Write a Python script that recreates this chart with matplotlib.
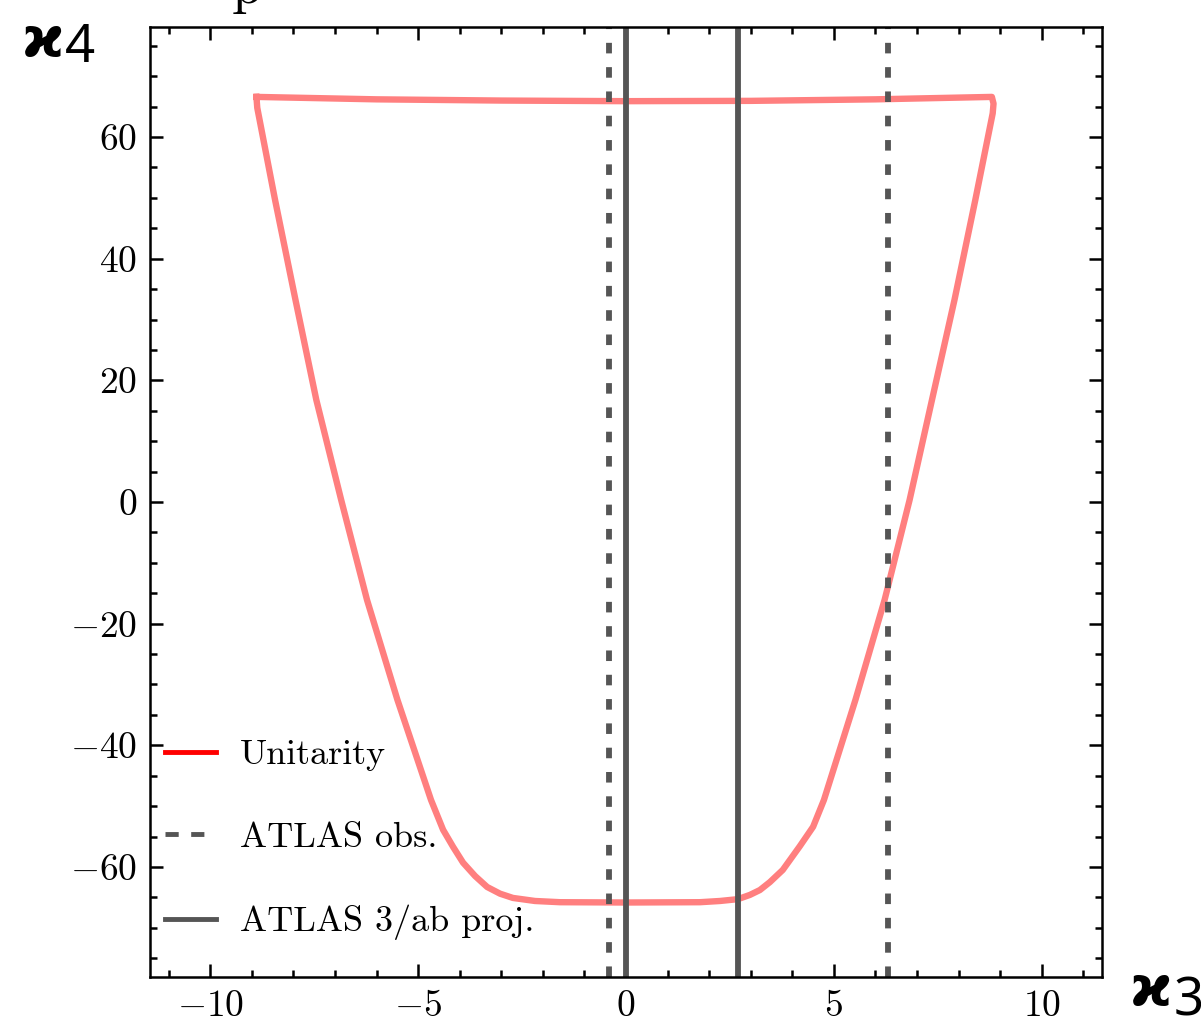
import matplotlib
matplotlib.use("Agg")
import matplotlib.pyplot as plt
from matplotlib.lines import Line2D
from matplotlib.ticker import MultipleLocator

plt.rcParams['font.family'] = 'serif'
plt.rcParams['font.serif'] = ['cmr10']
plt.rcParams['mathtext.fontset'] = 'cm'
plt.rcParams['axes.formatter.use_mathtext'] = True
plt.rcParams['lines.scale_dashes'] = False

# contorno de unitariedade (kappa3, kappa4), percorrido no sentido horario
k3_unit = [-8.89, -6.0, -3.0, 0.0, 3.0, 6.0, 8.80,
           8.84, 8.82, 8.40, 7.90, 7.36, 6.82, 6.22, 5.52, 4.76, 4.50,
           4.18, 3.77, 3.46, 3.22, 2.98, 2.69, 2.26, 1.78, 0.0, -1.59,
           -2.19, -2.72, -3.03, -3.34, -3.63, -3.92, -4.16, -4.40,
           -4.69, -5.50, -6.23, -6.85, -7.45, -7.95, -8.44, -8.87, -8.89]
k4_unit = [66.6, 66.2, 66.0, 65.9, 65.95, 66.2, 66.6,
           65.5, 63.9, 49.6, 33.2, 16.8, 0.3, -16.1, -32.5, -49.0, -53.4,
           -56.6, -60.5, -62.5, -63.8, -64.6, -65.3, -65.6, -65.8, -65.85, -65.8,
           -65.6, -65.1, -64.4, -63.3, -61.5, -59.3, -56.7, -53.9,
           -49.0, -32.5, -16.1, 0.3, 16.8, 33.2, 49.6, 64.8, 66.6]

# limites do ATLAS em kappa3
atlas_obs = [-0.4, 6.3]
atlas_proj = [0.0, 2.7]

cinza = '#555555'

fig = plt.figure(figsize=(12.01, 10.33), dpi=100)
ax = fig.add_axes([0.1249, 0.0542, 0.7927, 0.9197])

ax.plot(k3_unit, k4_unit, color='red', alpha=0.5, lw=4.6, solid_joinstyle='round')
for x in atlas_obs:
    ax.axvline(x, color=cinza, lw=4.2, dashes=(7.6, 9.9))
for x in atlas_proj:
    ax.axvline(x, color=cinza, lw=4.2)

ax.set_xlim(-11.45, 11.45)
ax.set_ylim(-78.1, 78.1)
ax.xaxis.set_major_locator(MultipleLocator(5))
ax.xaxis.set_minor_locator(MultipleLocator(1))
ax.yaxis.set_major_locator(MultipleLocator(20))
ax.yaxis.set_minor_locator(MultipleLocator(5))
ax.tick_params(which='both', direction='in', top=True, right=True, width=1.8, labelsize=27)
ax.tick_params(which='major', length=9.5, pad=9)
ax.tick_params(which='minor', length=5)
for s in ax.spines.values():
    s.set_linewidth(1.8)

handles = [Line2D([], [], color='red', lw=3.5),
           Line2D([], [], color=cinza, lw=3.5, dashes=(9.5, 9.0)),
           Line2D([], [], color=cinza, lw=3.5)]
labels = ["Unitarity", "ATLAS obs.", "ATLAS 3/ab proj."]
ax.legend(handles, labels, loc='lower left', frameon=False, fontsize=26,
          handlelength=1.4, handletextpad=0.68, labelspacing=1.4,
          borderaxespad=0.2, bbox_to_anchor=(-0.007, 0.016))

# rotulos dos eixos
fig.text(22 / 1201, 1 - 56 / 1033, 'ϰ', family='DejaVu Sans', weight='bold', fontsize=41, va='baseline')
fig.text(65 / 1201, 1 - 62 / 1033, '4', family='Noto Sans', fontsize=38, va='baseline')
fig.text(1130 / 1201, 1 - 1005 / 1033, 'ϰ', family='DejaVu Sans', weight='bold', fontsize=41, va='baseline')
fig.text(1174 / 1201, 1 - 1015 / 1033, '3', family='Noto Sans', fontsize=38, va='baseline')

# titulo cortado no topo
fig.text(247 / 1201, 1 - 3 / 1033, 'p', fontsize=40, va='baseline', ha='center')

fig.savefig('out.png', dpi=100)
